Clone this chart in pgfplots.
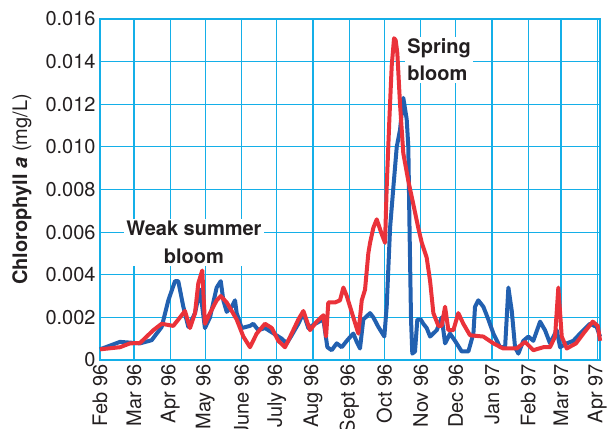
\documentclass[border=0pt]{standalone}
\usepackage{pgfplots}
\pgfplotsset{compat=1.18}
\usepackage{fontspec}
\setmainfont{TeX Gyre Heros}
\definecolor{gridc}{RGB}{20,175,232}
\definecolor{blueline}{RGB}{34,96,176}
\definecolor{redline}{RGB}{234,50,58}
\definecolor{txt}{RGB}{35,31,32}
\begin{document}
\begin{tikzpicture}
\begin{axis}[
  scale only axis,
  width=250pt, height=170.5pt,
  xmin=0, xmax=427.3, ymin=0, ymax=0.016,
  xtick={0,29,60,90,121,151,182,213,243,274,304,335,366,394,425},
  xticklabels={Feb 96,Mar 96,Apr 96,May 96,June 96,July 96,Aug 96,Sept 96,Oct 96,Nov 96,Dec 96,Jan 97,Feb 97,Mar 97,Apr 97},
  ytick={0,0.002,0.004,0.006,0.008,0.010,0.012,0.014,0.016},
  yticklabels={0,0.002,0.004,0.006,0.008,0.010,0.012,0.014,0.016},
  scaled y ticks=false,
  major tick length=0pt,
  grid=major,
  major grid style={gridc, line width=0.6pt},
  axis line style={gridc, line width=0.6pt},
  tick label style={font=\fontsize{10}{12}\selectfont, text=txt},
  x tick label style={rotate=90, anchor=east, inner sep=2pt},
  y tick label style={inner sep=2pt},
  every axis y label/.style={at={(axis description cs:-0.156,0.5)}, rotate=90, anchor=center, font=\fontsize{10}{12}\selectfont, text=txt},
  ylabel={\textbf{Chlorophyll \textit{a}} (mg/L)},
  clip=false,
]
\addplot[blueline, line width=2pt, line join=round] coordinates {
(0,0.0005) (17.1,0.00085) (34.2,0.00078) (44.2,0.00093) (52.7,0.00155) (58.4,0.0028) (64.1,0.0037) (66.9,0.0037) (71.2,0.0025) (75.5,0.00155) (81.2,0.0022) (85.5,0.0033) (89.7,0.0015) (94,0.002) (99.7,0.0034) (103.2,0.0037) (105.4,0.0028) (108.3,0.00226) (112.6,0.0025) (115.4,0.0028) (116.8,0.0022) (121.1,0.0015) (128.2,0.0016) (131,0.0017) (135.3,0.0014) (141,0.0015) (146.8,0.0013) (155.3,0.001) (159.6,0.00078) (163.8,0.00116) (169.5,0.0017) (173.8,0.0022) (178,0.0015) (183.8,0.0017) (190.9,0.0019) (194.3,0.0006) (198,0.00046) (202.3,0.00078) (206.6,0.0006) (210.9,0.0009) (215.1,0.00116) (216.5,0.00124) (219.4,0.00085) (222.2,0.00054) (225,0.0019) (230.8,0.0022) (233.6,0.002) (237.9,0.00155) (243,0.0011) (245,0.0025) (247.9,0.0062) (250.7,0.0081) (253.6,0.010) (256.4,0.0108) (259.2,0.0123) (262.1,0.0113) (263.5,0.010) (264.4,0.0066) (265.8,0.0019) (266.9,0.0003) (269.2,0.0004) (271.2,0.0019) (274.1,0.0019) (276.3,0.0017) (279.2,0.0015) (282.1,0.0011) (287.8,0.0014) (292,0.002) (294.9,0.00078) (299.1,0.00124) (303.4,0.0009) (309.1,0.0004) (314.8,0.0004) (319.1,0.00124) (320.5,0.0025) (323.3,0.0028) (327.6,0.0025) (331.9,0.0019) (336.2,0.00124) (341.9,0.0006) (346.2,0.0006) (349,0.0034) (351.9,0.0023) (354.7,0.0006) (357.5,0.0003) (361.8,0.0009) (366.1,0.0011) (370.3,0.0009) (376.1,0.0018) (380.3,0.0014) (384.6,0.00078) (390.3,0.0014) (393.2,0.0006) (398.9,0.00078) (404.5,0.0009) (410.3,0.00124) (418.8,0.0017) (424.5,0.00155) (427.3,0.0011)
};
\addplot[redline, line width=2pt, line join=round] coordinates {
(0,0.0005) (17.1,0.0006) (25.6,0.00078) (34.2,0.0008) (39.9,0.0011) (45.6,0.0014) (52.7,0.0017) (62.6,0.0016) (68.4,0.002) (72.6,0.0023) (76.9,0.0015) (81.2,0.0022) (84,0.0036) (87.4,0.0042) (89.7,0.0017) (94,0.0022) (99.7,0.0028) (103.2,0.003) (108.3,0.0027) (112.6,0.0023) (116.8,0.0019) (122.5,0.0011) (128.2,0.0006) (133.9,0.00124) (141,0.0017) (146.8,0.0015) (152.4,0.0009) (158.1,0.0006) (163.8,0.00124) (169.5,0.0019) (173.8,0.0023) (179.5,0.0014) (185.2,0.0018) (190.9,0.0021) (193.2,0.0011) (195.1,0.0027) (200.9,0.0027) (205.1,0.0028) (208,0.0034) (210.9,0.003) (213.7,0.0025) (216.5,0.002) (220.8,0.00124) (223.7,0.0028) (226.5,0.0033) (229.3,0.005) (230.8,0.0055) (233.6,0.0062) (236.5,0.0066) (240.8,0.0059) (243.6,0.0055) (245,0.0081) (247.3,0.0113) (249.3,0.0138) (251.3,0.0151) (252.7,0.015) (254.1,0.0144) (256.4,0.012) (259.2,0.0097) (263.5,0.0084) (267.8,0.0073) (272,0.0062) (275,0.0055) (279.2,0.0048) (282.1,0.0037) (284.9,0.0022) (289.2,0.0016) (292,0.0016) (294.9,0.0025) (297.7,0.0014) (302,0.0014) (306.2,0.0022) (310.5,0.0017) (316.2,0.00116) (327.6,0.0011) (336.2,0.00078) (344.7,0.00054) (356.1,0.00054) (363.2,0.00085) (370.3,0.00046) (378.9,0.0006) (384.6,0.0006) (388.9,0.0011) (391.7,0.0034) (394.6,0.0011) (398.9,0.00054) (406.8,0.00078) (413.9,0.0013) (421.1,0.0018) (425.4,0.0016) (427.4,0.0009)
};
\node[fill=white, inner sep=1pt, align=center, font=\bfseries\fontsize{10}{14}\selectfont, text=txt] at (axis cs:80.3,0.00553) {Weak summer\\bloom};
\node[fill=white, inner sep=1pt, align=left, anchor=west, font=\bfseries\fontsize{10}{13.5}\selectfont, text=txt] at (axis cs:260.7,0.01408) {Spring\\bloom};
\end{axis}
\pgfresetboundingbox
\path[use as bounding box] ([xshift=-50pt,yshift=-34pt]current axis.south west) rectangle ([xshift=7.5pt,yshift=9.5pt]current axis.north east);
\end{tikzpicture}
\end{document}
